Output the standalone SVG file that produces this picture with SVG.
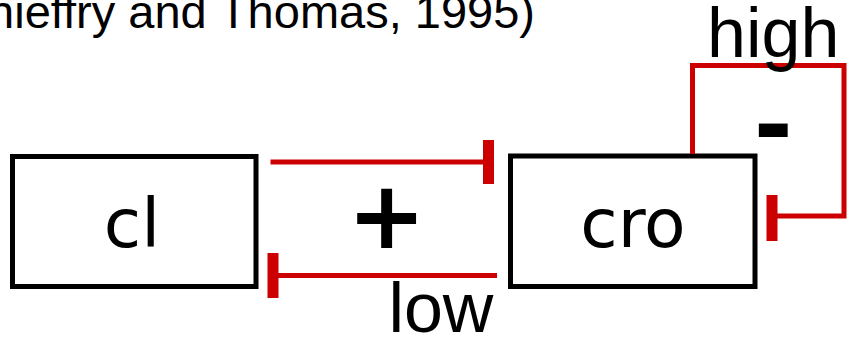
<svg xmlns="http://www.w3.org/2000/svg" width="848" height="338" viewBox="0 0 848 338">
  <style>
    .box { fill: #fff; stroke: #000; stroke-width: 5; }
    .name { font-family: "DejaVu Sans", sans-serif; font-size: 68px; fill: #000; text-anchor: middle; }
    .sign { font-family: "DejaVu Sans", sans-serif; font-weight: bold; font-size: 94px; fill: #000; text-anchor: middle; }
    .lbl { font-family: "Liberation Sans", Arial, sans-serif; font-size: 70px; fill: #000; }
    .cite { font-family: "Liberation Sans", Arial, sans-serif; font-size: 47px; fill: #000; text-anchor: end; }
    .edge { fill: none; stroke: #cc0000; stroke-width: 5; }
    .bar { stroke: #cc0000; stroke-width: 11; }
  </style>

  <text class="cite" x="535" y="28">(Thieffry and Thomas, 1995)</text>

  <g id="cl">
    <rect class="box" x="12.5" y="156.5" width="243.5" height="130"/>
    <text class="name" x="132" y="247">cl</text>
  </g>

  <g id="cro">
    <rect class="box" x="510.5" y="156" width="244.5" height="130.5"/>
    <text class="name" x="633" y="247">cro</text>
  </g>

  <g id="connectors">
    <!-- cl -| cro -->
    <line class="edge" x1="270.5" y1="162" x2="488" y2="162"/>
    <line class="bar" x1="488.5" y1="140" x2="488.5" y2="184"/>
    <!-- cro -| cl -->
    <line class="edge" x1="497" y1="275.5" x2="273" y2="275.5"/>
    <line class="bar" x1="273" y1="253" x2="273" y2="298"/>
    <!-- cro self-inhibition -->
    <path class="edge" d="M692.5 154 V65.5 H844 V216 H772"/>
    <line class="bar" x1="772" y1="195" x2="772" y2="241"/>
  </g>

  <g id="labels">
    <text class="sign" x="386.7" y="248">+</text>
    <text class="sign" x="773.3" y="158">-</text>
    <text class="lbl" x="388.4" y="332">low</text>
    <text class="lbl" x="707" y="57">high</text>
  </g>
</svg>
